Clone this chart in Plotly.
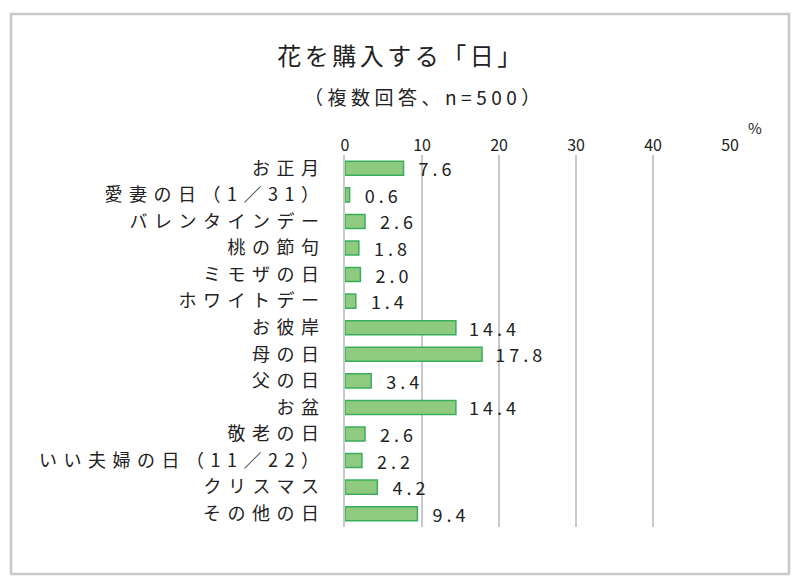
import plotly.graph_objects as go

categories = ["お正月", "愛妻の日（1／31）", "バレンタインデー", "桃の節句", "ミモザの日",
              "ホワイトデー", "お彼岸", "母の日", "父の日", "お盆", "敬老の日",
              "いい夫婦の日（11／22）", "クリスマス", "その他の日"]
values = [7.6, 0.6, 2.6, 1.8, 2.0, 1.4, 14.4, 17.8, 3.4, 14.4, 2.6, 2.2, 4.2, 9.4]
x_ticks = [0, 10, 20, 30, 40, 50]

W, H = 799, 587
L, R, T, B = 345, 69, 155, 60
pw, ph = W - L - R, H - T - B

FONT = "Noto Sans CJK JP"

fig = go.Figure()
fig.add_trace(go.Bar(
    y=categories, x=values, orientation="h",
    marker=dict(color="#8ecb7f", line=dict(color="#3aae5c", width=1.5)),
    text=[f"{v:.1f}" for v in values],
    texttemplate="\u00a0\u00a0\u00a0%{text}",
    textposition="outside", cliponaxis=False, constraintext="none",
    textfont=dict(family=FONT, size=18, color="#222222"),
    hoverinfo="skip",
))

def px_x(p):
    return (p - L) / pw

def px_y(p):
    return (H - B - p) / ph

fig.update_layout(
    width=W, height=H,
    margin=dict(l=L, r=R, t=T, b=B),
    paper_bgcolor="white", plot_bgcolor="white",
    showlegend=False, bargap=0.47,
    font=dict(family=FONT, color="#222222"),
    xaxis=dict(
        range=[0, 50], side="top", tickvals=x_ticks,
        showgrid=True, gridcolor="#c8c8c8", gridwidth=2,
        zeroline=False, showline=False, ticks="",
        tickfont=dict(family=FONT, size=16, color="#222222"),
        fixedrange=True,
    ),
    yaxis=dict(
        autorange="reversed", showgrid=False, zeroline=False,
        showline=True, linecolor="#c8c8c8", linewidth=2, ticks="",
        ticklabelstandoff=14,
        tickfont=dict(family=FONT, size=18, color="#222222"),
        fixedrange=True,
    ),
    shapes=[dict(type="rect", xref="paper", yref="paper",
                 x0=px_x(11), x1=px_x(789), y0=px_y(574), y1=px_y(14),
                 line=dict(color="#c8c8c8", width=2.5), layer="below")],
    annotations=[
        dict(text="花を購入する「日」", xref="paper", yref="paper",
             x=px_x(401), y=px_y(54), showarrow=False,
             font=dict(family=FONT, size=24, color="#222222"),
             xanchor="center", yanchor="middle"),
        dict(text="（複数回答、n=500）", xref="paper", yref="paper",
             x=px_x(424), y=px_y(97), showarrow=False,
             font=dict(family=FONT, size=19, color="#222222"),
             xanchor="center", yanchor="middle"),
        dict(text="%", xref="paper", yref="paper",
             x=px_x(755), y=px_y(127), showarrow=False,
             font=dict(family=FONT, size=15, color="#222222"),
             xanchor="center", yanchor="middle"),
    ],
)

css_js = """
var st = document.createElement('style');
st.textContent = '.ytick text { letter-spacing: 6.5px; } text.bartext { letter-spacing: 4px; } '
  + 'g.annotation[data-index="0"] text { letter-spacing: 3.5px; } '
  + 'g.annotation[data-index="1"] text { letter-spacing: 4.5px; }';
document.head.appendChild(st);
"""

fig.write_html("out.html", post_script=css_js)
